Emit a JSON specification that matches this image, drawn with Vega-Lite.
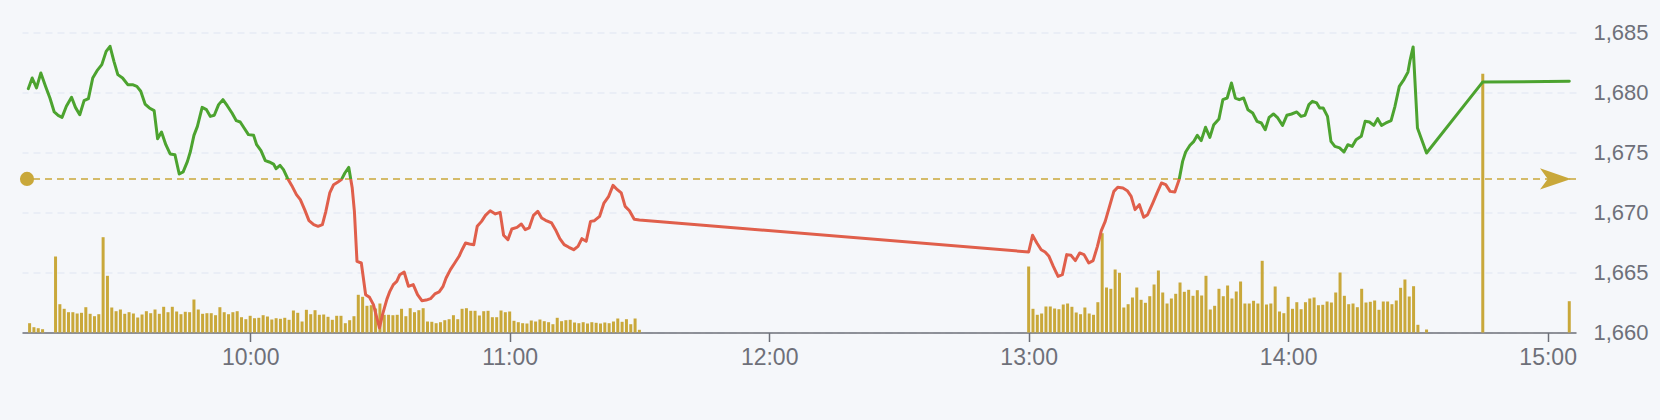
{
 "$schema": "https://vega.github.io/schema/vega-lite/v6.json",
 "width": 1554,
 "height": 300,
 "autosize": {"type": "none"},
 "padding": {"left": 22, "top": 32.5, "right": 84, "bottom": 87.5},
 "background": "#f5f7fa",
 "config": {
  "view": {"stroke": null},
  "axisX": {"grid": false, "labelFlush": false, "domainColor": "#6e7079", "domainWidth": 1.5, "tickColor": "#6e7079", "tickSize": 9, "tickWidth": 1.5, "labelColor": "#6e7079", "labelFont": "Liberation Sans", "labelFontSize": 23, "labelPadding": 5}
 },
 "datasets": {
  "price": [
   {"t":548.7,"p":1680.32},{"t":549.6,"p":1681.21},{"t":550.6,"p":1680.38},{"t":551.6,"p":1681.63},{"t":552.7,"p":1680.51},{"t":553.7,"p":1679.54},{"t":554.7,"p":1678.38},{"t":555.6,"p":1678.10},{"t":556.5,"p":1677.93},{"t":557.5,"p":1678.85},{"t":558.7,"p":1679.60},{"t":559.6,"p":1678.76},{"t":560.6,"p":1678.15},{"t":561.6,"p":1679.32},{"t":562.6,"p":1679.49},{"t":563.6,"p":1681.21},{"t":564.6,"p":1681.82},{"t":565.7,"p":1682.32},{"t":566.7,"p":1683.43},{"t":567.6,"p":1683.85},{"t":568.5,"p":1682.60},{"t":569.4,"p":1681.49},{"t":570.5,"p":1681.21},{"t":571.7,"p":1680.65},{"t":572.8,"p":1680.65},{"t":573.8,"p":1680.51},{"t":574.7,"p":1680.10},{"t":575.7,"p":1679.04},{"t":576.7,"p":1678.71},{"t":577.8,"p":1678.49},{"t":578.6,"p":1676.15},{"t":579.5,"p":1676.71},{"t":580.5,"p":1675.65},{"t":581.5,"p":1674.88},{"t":582.6,"p":1674.82},{"t":583.6,"p":1673.21},{"t":584.5,"p":1673.38},{"t":585.5,"p":1674.26},{"t":586.2,"p":1675.10},{"t":587.0,"p":1676.43},{"t":587.8,"p":1677.18},{"t":588.9,"p":1678.76},{"t":589.9,"p":1678.57},{"t":590.8,"p":1678.01},{"t":591.7,"p":1678.10},{"t":592.7,"p":1678.99},{"t":593.7,"p":1679.40},{"t":594.7,"p":1678.90},{"t":595.8,"p":1678.29},{"t":596.8,"p":1677.65},{"t":597.7,"p":1677.54},{"t":598.6,"p":1677.04},{"t":599.6,"p":1676.49},{"t":600.8,"p":1676.43},{"t":601.5,"p":1675.65},{"t":602.5,"p":1675.15},{"t":603.5,"p":1674.32},{"t":604.4,"p":1674.21},{"t":605.4,"p":1674.04},{"t":606.0,"p":1673.65},{"t":606.9,"p":1673.93},{"t":607.7,"p":1673.57},{"t":608.6,"p":1672.88},{"t":609.6,"p":1672.26},{"t":610.7,"p":1671.49},{"t":611.6,"p":1671.07},{"t":612.6,"p":1670.24},{"t":613.6,"p":1669.32},{"t":614.7,"p":1668.99},{"t":615.7,"p":1668.85},{"t":616.7,"p":1668.99},{"t":617.5,"p":1670.10},{"t":618.4,"p":1671.63},{"t":619.3,"p":1672.32},{"t":620.3,"p":1672.54},{"t":621.1,"p":1672.74},{"t":621.9,"p":1673.29},{"t":622.8,"p":1673.76},{"t":623.6,"p":1672.04},{"t":624.1,"p":1670.10},{"t":624.7,"p":1665.93},{"t":625.7,"p":1665.79},{"t":626.7,"p":1663.15},{"t":627.6,"p":1662.93},{"t":628.5,"p":1662.32},{"t":629.1,"p":1661.49},{"t":629.9,"p":1660.38},{"t":630.6,"p":1661.49},{"t":631.6,"p":1662.76},{"t":632.3,"p":1663.43},{"t":633.1,"p":1663.99},{"t":633.9,"p":1664.26},{"t":634.6,"p":1664.82},{"t":635.6,"p":1665.04},{"t":636.6,"p":1663.85},{"t":637.7,"p":1663.99},{"t":638.7,"p":1663.15},{"t":639.7,"p":1662.65},{"t":640.7,"p":1662.70},{"t":641.7,"p":1662.82},{"t":642.7,"p":1663.21},{"t":643.7,"p":1663.38},{"t":644.6,"p":1663.85},{"t":645.3,"p":1664.54},{"t":646.3,"p":1665.24},{"t":647.3,"p":1665.79},{"t":648.3,"p":1666.35},{"t":649.0,"p":1666.90},{"t":649.8,"p":1667.46},{"t":650.7,"p":1667.38},{"t":651.7,"p":1667.32},{"t":652.5,"p":1668.85},{"t":653.5,"p":1669.26},{"t":654.4,"p":1669.76},{"t":655.5,"p":1670.15},{"t":656.7,"p":1669.88},{"t":657.8,"p":1670.01},{"t":658.6,"p":1668.10},{"t":659.6,"p":1667.74},{"t":660.5,"p":1668.63},{"t":661.7,"p":1668.76},{"t":662.7,"p":1669.04},{"t":663.6,"p":1668.57},{"t":664.5,"p":1668.71},{"t":665.5,"p":1669.76},{"t":666.5,"p":1670.10},{"t":667.4,"p":1669.54},{"t":668.3,"p":1669.35},{"t":669.7,"p":1669.13},{"t":670.6,"p":1668.57},{"t":671.6,"p":1667.82},{"t":672.6,"p":1667.32},{"t":673.7,"p":1667.10},{"t":674.8,"p":1666.90},{"t":675.8,"p":1667.18},{"t":676.7,"p":1667.82},{"t":677.7,"p":1667.60},{"t":678.7,"p":1669.26},{"t":679.6,"p":1669.32},{"t":680.8,"p":1669.68},{"t":681.8,"p":1670.79},{"t":682.9,"p":1671.35},{"t":683.9,"p":1672.26},{"t":684.9,"p":1671.90},{"t":685.8,"p":1671.63},{"t":686.7,"p":1670.51},{"t":687.7,"p":1670.15},{"t":688.8,"p":1669.43},{"t":690.0,"p":1669.38},
   {"t":780.0,"p":1666.71},{"t":780.9,"p":1668.10},{"t":781.9,"p":1667.46},{"t":782.9,"p":1666.90},{"t":783.8,"p":1666.71},{"t":784.7,"p":1666.35},{"t":785.7,"p":1665.51},{"t":786.8,"p":1664.68},{"t":787.8,"p":1664.82},{"t":788.8,"p":1666.49},{"t":789.8,"p":1666.43},{"t":790.8,"p":1665.99},{"t":791.8,"p":1666.63},{"t":792.8,"p":1666.49},{"t":793.9,"p":1665.79},{"t":794.9,"p":1665.99},{"t":795.9,"p":1667.18},{"t":796.8,"p":1668.49},{"t":797.7,"p":1669.26},{"t":798.7,"p":1670.51},{"t":799.7,"p":1671.76},{"t":800.6,"p":1672.10},{"t":801.8,"p":1672.04},{"t":802.8,"p":1671.82},{"t":803.7,"p":1671.35},{"t":804.6,"p":1670.24},{"t":805.6,"p":1670.65},{"t":806.6,"p":1669.60},{"t":807.5,"p":1669.82},{"t":808.7,"p":1670.79},{"t":809.7,"p":1671.63},{"t":810.7,"p":1672.46},{"t":811.7,"p":1672.32},{"t":812.7,"p":1671.76},{"t":813.8,"p":1671.71},{"t":814.8,"p":1672.74},{"t":815.6,"p":1674.26},{"t":816.3,"p":1675.04},{"t":817.3,"p":1675.60},{"t":818.2,"p":1675.93},{"t":819.0,"p":1676.43},{"t":819.9,"p":1675.99},{"t":820.9,"p":1677.10},{"t":821.9,"p":1676.26},{"t":822.8,"p":1677.32},{"t":824.0,"p":1677.80},{"t":824.9,"p":1679.40},{"t":825.9,"p":1679.54},{"t":826.9,"p":1680.79},{"t":827.8,"p":1679.54},{"t":828.7,"p":1679.40},{"t":829.7,"p":1679.54},{"t":830.7,"p":1678.57},{"t":831.8,"p":1678.29},{"t":832.8,"p":1677.60},{"t":833.8,"p":1677.46},{"t":834.7,"p":1676.90},{"t":835.6,"p":1677.93},{"t":836.6,"p":1678.21},{"t":837.6,"p":1677.88},{"t":838.7,"p":1677.26},{"t":839.7,"p":1678.10},{"t":840.8,"p":1678.21},{"t":842.0,"p":1678.38},{"t":843.0,"p":1678.01},{"t":843.9,"p":1678.10},{"t":844.8,"p":1678.99},{"t":845.6,"p":1679.26},{"t":846.6,"p":1679.13},{"t":847.3,"p":1678.71},{"t":848.1,"p":1678.71},{"t":849.1,"p":1678.01},{"t":849.9,"p":1675.93},{"t":850.8,"p":1675.51},{"t":851.9,"p":1675.38},{"t":852.9,"p":1675.04},{"t":853.8,"p":1675.65},{"t":854.8,"p":1675.51},{"t":855.7,"p":1676.07},{"t":856.9,"p":1676.35},{"t":857.8,"p":1677.60},{"t":858.8,"p":1677.54},{"t":859.8,"p":1677.26},{"t":860.7,"p":1677.82},{"t":861.6,"p":1677.26},{"t":862.6,"p":1677.46},{"t":863.8,"p":1677.65},{"t":864.7,"p":1678.85},{"t":865.7,"p":1680.51},{"t":866.8,"p":1681.10},{"t":867.7,"p":1681.70},{"t":868.2,"p":1682.70},{"t":868.9,"p":1683.80},{"t":869.9,"p":1677.04},{"t":872.0,"p":1674.96},{"t":885.0,"p":1680.88},{"t":905.0,"p":1680.93}
  ],
  "volume": [
   {"t":549,"vol":9.3},{"t":550,"vol":5.3},{"t":551,"vol":4.3},{"t":552,"vol":3.3},
   {"t":555,"vol":76},{"t":556,"vol":28.3},{"t":557,"vol":23.7},{"t":558,"vol":20.3},{"t":559,"vol":20.3},{"t":560,"vol":19},{"t":561,"vol":19.7},{"t":562,"vol":25.3},{"t":563,"vol":18.7},{"t":564,"vol":16.3},{"t":565,"vol":18.3},{"t":566,"vol":95.3},{"t":567,"vol":56.7},{"t":568,"vol":25},{"t":569,"vol":21.3},{"t":570,"vol":23},{"t":571,"vol":18.7},{"t":572,"vol":20.3},{"t":573,"vol":19},{"t":574,"vol":15},{"t":575,"vol":18},{"t":576,"vol":21.3},{"t":577,"vol":19.3},{"t":578,"vol":23},{"t":579,"vol":18.7},{"t":580,"vol":25.7},{"t":581,"vol":20.3},{"t":582,"vol":25.7},{"t":583,"vol":21},{"t":584,"vol":18.3},{"t":585,"vol":20.7},{"t":586,"vol":20.3},{"t":587,"vol":33},{"t":588,"vol":23},{"t":589,"vol":18.7},{"t":590,"vol":19.3},{"t":591,"vol":19.3},{"t":592,"vol":17.3},{"t":593,"vol":25.3},{"t":594,"vol":20.3},{"t":595,"vol":18.3},
   {"t":596,"vol":20.3},{"t":597,"vol":21.3},{"t":598,"vol":15.3},{"t":599,"vol":13.3},{"t":600,"vol":16.7},{"t":601,"vol":14.3},{"t":602,"vol":14.7},{"t":603,"vol":17.3},{"t":604,"vol":16},{"t":605,"vol":13},{"t":606,"vol":14.3},{"t":607,"vol":13.7},{"t":608,"vol":14.7},{"t":609,"vol":12.7},{"t":610,"vol":22},{"t":611,"vol":19.7},{"t":612,"vol":11},{"t":613,"vol":22.7},{"t":614,"vol":18.3},{"t":615,"vol":22.3},{"t":616,"vol":17.7},{"t":617,"vol":18},{"t":618,"vol":15.7},{"t":619,"vol":12.7},{"t":620,"vol":16.7},{"t":621,"vol":16.7},{"t":622,"vol":9.3},{"t":623,"vol":12.3},{"t":624,"vol":16.3},
   {"t":625,"vol":37.7},{"t":626,"vol":35.7},{"t":627,"vol":26.7},{"t":628,"vol":27.3},{"t":629,"vol":24},{"t":630,"vol":29},{"t":631,"vol":17.7},{"t":632,"vol":17.7},{"t":633,"vol":17.3},{"t":634,"vol":17.7},{"t":635,"vol":23.7},{"t":636,"vol":16.3},{"t":637,"vol":24.3},{"t":638,"vol":20.3},{"t":639,"vol":22.3},
   {"t":640,"vol":24.3},{"t":641,"vol":11},{"t":642,"vol":10.7},{"t":643,"vol":9.3},{"t":644,"vol":10.3},{"t":645,"vol":12.3},{"t":646,"vol":13.3},{"t":647,"vol":17.3},{"t":648,"vol":13.3},{"t":649,"vol":23.7},{"t":650,"vol":24.3},{"t":651,"vol":21.7},{"t":652,"vol":21.7},{"t":653,"vol":17},{"t":654,"vol":21.3},{"t":655,"vol":21.7},{"t":656,"vol":15.3},{"t":657,"vol":15.3},{"t":658,"vol":22},{"t":659,"vol":20.3},{"t":660,"vol":21},{"t":661,"vol":11.7},{"t":662,"vol":10.3},{"t":663,"vol":9.3},{"t":664,"vol":9},{"t":665,"vol":12},{"t":666,"vol":11},{"t":667,"vol":13},{"t":668,"vol":11.3},{"t":669,"vol":10.3},{"t":670,"vol":8.3},{"t":671,"vol":14.7},{"t":672,"vol":11.3},{"t":673,"vol":12.3},{"t":674,"vol":12.7},{"t":675,"vol":10},{"t":676,"vol":9.3},{"t":677,"vol":10.3},{"t":678,"vol":9},{"t":679,"vol":10.3},{"t":680,"vol":9.7},{"t":681,"vol":9},{"t":682,"vol":10},{"t":683,"vol":9.3},{"t":684,"vol":11},{"t":685,"vol":14},{"t":686,"vol":10.7},{"t":687,"vol":13.3},{"t":688,"vol":8.3},{"t":689,"vol":14},{"t":690,"vol":2.7},
   {"t":780,"vol":66},{"t":781,"vol":23.7},{"t":782,"vol":17.7},{"t":783,"vol":19},{"t":784,"vol":26},{"t":785,"vol":26},{"t":786,"vol":24},{"t":787,"vol":23.3},{"t":788,"vol":28},{"t":789,"vol":29},{"t":790,"vol":25.7},{"t":791,"vol":20},{"t":792,"vol":18.3},{"t":793,"vol":25},{"t":794,"vol":19},{"t":795,"vol":17.7},{"t":796,"vol":30.3},{"t":797,"vol":99.3},{"t":798,"vol":45},{"t":799,"vol":43.7},{"t":800,"vol":63},{"t":801,"vol":59.7},{"t":802,"vol":25},{"t":803,"vol":28.3},{"t":804,"vol":35},{"t":805,"vol":45},{"t":806,"vol":32.7},{"t":807,"vol":29.7},{"t":808,"vol":36.3},{"t":809,"vol":48},{"t":810,"vol":62},{"t":811,"vol":40},{"t":812,"vol":29},{"t":813,"vol":34},{"t":814,"vol":38.7},{"t":815,"vol":50},{"t":816,"vol":40.7},{"t":817,"vol":42.7},{"t":818,"vol":36.7},{"t":819,"vol":42.3},{"t":820,"vol":37},{"t":821,"vol":56.7},{"t":822,"vol":23},{"t":823,"vol":26.7},
   {"t":824,"vol":43.7},{"t":825,"vol":36.3},{"t":826,"vol":47},{"t":827,"vol":34},{"t":828,"vol":41},{"t":829,"vol":51},{"t":830,"vol":29},{"t":831,"vol":29},{"t":832,"vol":31.7},{"t":833,"vol":29},{"t":834,"vol":71.7},{"t":835,"vol":28},{"t":836,"vol":29},{"t":837,"vol":46},{"t":838,"vol":21},{"t":839,"vol":19.3},{"t":840,"vol":35.7},{"t":841,"vol":23.7},{"t":842,"vol":30.3},{"t":843,"vol":23.3},{"t":844,"vol":30.3},{"t":845,"vol":34},{"t":846,"vol":35},{"t":847,"vol":27.3},{"t":848,"vol":27.7},{"t":849,"vol":31},{"t":850,"vol":30},{"t":851,"vol":40},{"t":852,"vol":60},{"t":853,"vol":36.7},{"t":854,"vol":28.3},{"t":855,"vol":29},{"t":856,"vol":25.3},{"t":857,"vol":43.7},{"t":858,"vol":30},{"t":859,"vol":30.7},{"t":860,"vol":32},{"t":861,"vol":22.7},{"t":862,"vol":31},{"t":863,"vol":31},{"t":864,"vol":28.3},{"t":865,"vol":32},{"t":866,"vol":44.7},{"t":867,"vol":53},{"t":868,"vol":36},
   {"t":869,"vol":46.3},{"t":870,"vol":7.7},{"t":872,"vol":3},{"t":885,"vol":258.7},{"t":905,"vol":31.3}
  ]
 },
 "layer": [
  {
   "data": {"name": "price"},
   "mark": {"type": "line", "opacity": 0},
   "encoding": {
    "x": {"field": "t", "type": "quantitative", "title": null, "scale": {"domain": [548.4, 905.4], "nice": false, "zero": false}, "axis": {"values": [600, 660, 720, 780, 840, 900], "labelExpr": "floor(datum.value/60) + ':00'"}},
    "y": {
     "field": "p", "type": "quantitative", "title": null,
     "scale": {"domain": [1660, 1685], "nice": false, "zero": false},
     "axis": {
      "orient": "right",
      "values": [1660, 1665, 1670, 1675, 1680, 1685],
      "format": ",d",
      "domain": false, "ticks": false, "tickSize": 0, "labelFlush": false,
      "grid": true, "gridColor": "#e0e6f1", "gridDash": [7, 5], "gridWidth": 1.2,
      "labelColor": "#6e7079", "labelFont": "Liberation Sans", "labelFontSize": 22, "labelPadding": 17
     }
    }
   }
  },
  {
   "data": {"values": [{"t": 700, "ref": 1672.8}]},
   "mark": {"type": "rule", "color": "#c9a83a", "strokeDash": [7, 5], "strokeWidth": 1.5},
   "encoding": {
    "y": {"field": "ref", "type": "quantitative", "scale": {"domain": [1660, 1685], "nice": false, "zero": false}, "axis": null}
   }
  },
  {
   "data": {"name": "volume"},
   "mark": {"type": "bar", "size": 3, "color": "#c9a83a"},
   "encoding": {
    "x": {"field": "t", "type": "quantitative", "title": null, "scale": {"domain": [548.4, 905.4], "nice": false, "zero": false}, "axis": {"values": [600, 660, 720, 780, 840, 900], "labelExpr": "floor(datum.value/60) + ':00'"}},
    "y": {"field": "vol", "type": "quantitative", "scale": {"domain": [0, 300], "nice": false}, "axis": null}
   }
  },
  {
   "data": {"name": "price"},
   "mark": {
    "type": "line",
    "strokeWidth": 3,
    "strokeJoin": "round",
    "strokeCap": "round",
    "stroke": {
     "gradient": "linear", "x1": 0, "y1": 0, "x2": 0, "y2": 1,
     "stops": [
      {"offset": 0, "color": "#4ca32f"},
      {"offset": 0.4708, "color": "#4ca32f"},
      {"offset": 0.4708, "color": "#e05f4b"},
      {"offset": 1, "color": "#e05f4b"}
     ]
    }
   },
   "encoding": {
    "x": {"field": "t", "type": "quantitative", "title": null, "scale": {"domain": [548.4, 905.4], "nice": false, "zero": false}, "axis": {"values": [600, 660, 720, 780, 840, 900], "labelExpr": "floor(datum.value/60) + ':00'"}},
    "y": {"field": "p", "type": "quantitative", "scale": {"domain": [1660, 1685], "nice": false, "zero": false}, "axis": null}
   }
  },
  {
   "data": {"values": [{"t": 548.4, "ref": 1672.8}]},
   "mark": {"type": "point", "shape": "circle", "filled": true, "size": 201, "color": "#c9a83a", "opacity": 1},
   "encoding": {
    "x": {"field": "t", "type": "quantitative", "title": null, "scale": {"domain": [548.4, 905.4], "nice": false, "zero": false}, "axis": {"values": [600, 660, 720, 780, 840, 900], "labelExpr": "floor(datum.value/60) + ':00'"}},
    "y": {"field": "ref", "type": "quantitative", "scale": {"domain": [1660, 1685], "nice": false, "zero": false}, "axis": null}
   }
  },
  {
   "data": {"values": [{"t": 905.4, "ref": 1672.8}]},
   "mark": {"type": "point", "shape": "M0,0 L-1,-0.34 L-0.75,0 L-1,0.34 Z", "filled": true, "size": 3844, "color": "#c9a83a", "opacity": 1},
   "encoding": {
    "x": {"field": "t", "type": "quantitative", "title": null, "scale": {"domain": [548.4, 905.4], "nice": false, "zero": false}, "axis": {"values": [600, 660, 720, 780, 840, 900], "labelExpr": "floor(datum.value/60) + ':00'"}},
    "y": {"field": "ref", "type": "quantitative", "scale": {"domain": [1660, 1685], "nice": false, "zero": false}, "axis": null}
   }
  }
 ],
 "resolve": {"scale": {"y": "independent"}}
}
